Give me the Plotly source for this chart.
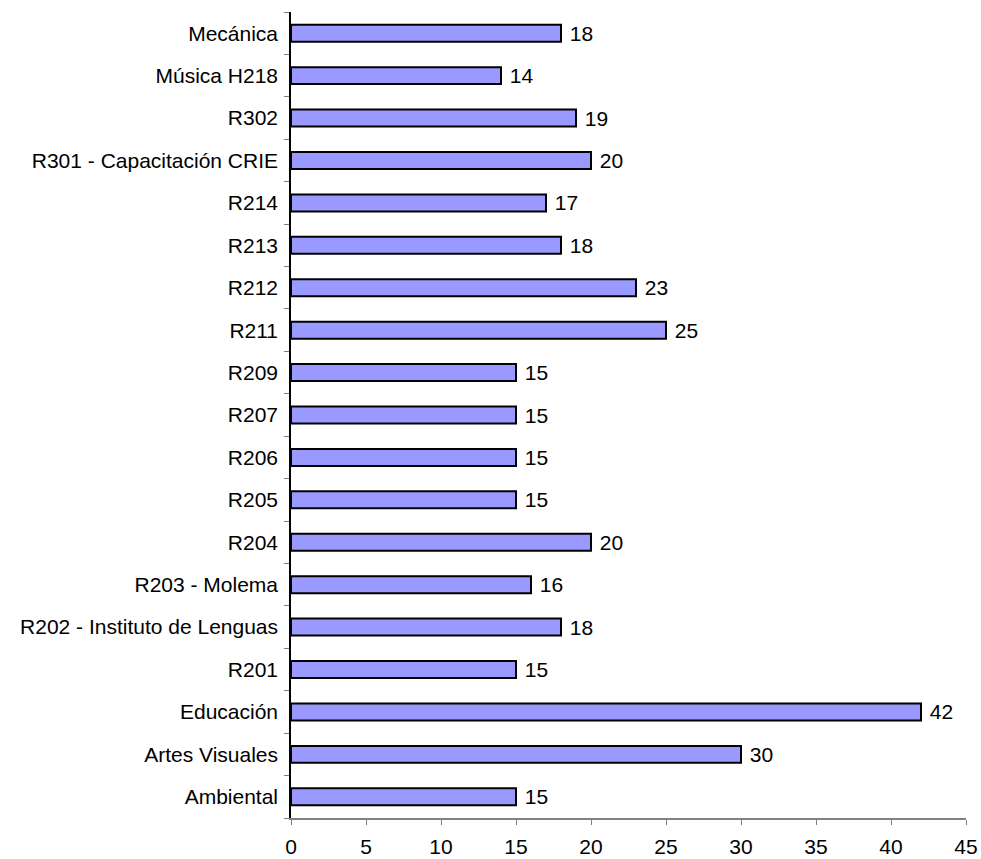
import plotly.graph_objects as go

categories = ["Ambiental", "Artes Visuales", "Educación", "R201",
              "R202 - Instituto de Lenguas", "R203 - Molema", "R204", "R205",
              "R206", "R207", "R209", "R211", "R212", "R213", "R214",
              "R301 - Capacitación CRIE", "R302", "Música H218", "Mecánica"]
values = [15, 30, 42, 15, 18, 16, 20, 15, 15, 15, 15, 25, 23, 18, 17, 20, 19, 14, 18]
x_ticks = [0, 5, 10, 15, 20, 25, 30, 35, 40, 45]

FONT = "Liberation Sans, Arial, sans-serif"
FS = 21

fig = go.Figure(go.Bar(
    y=categories, x=values, orientation="h",
    marker=dict(color="#9999FF", line=dict(color="black", width=2)),
    text=[str(v) for v in values], texttemplate=" %{text}", textposition="outside",
    constraintext="none",
    textfont=dict(family=FONT, size=FS, color="black"),
    cliponaxis=False,
))

fig.update_layout(
    width=981, height=859,
    margin=dict(l=291, r=15, t=12, b=41),
    paper_bgcolor="white", plot_bgcolor="white",
    bargap=0.6, showlegend=False,
    font=dict(family=FONT, size=FS, color="black"),
)
fig.update_xaxes(
    range=[0, 45], tickvals=x_ticks, showgrid=False, zeroline=False,
    showline=True, linecolor="#808080", linewidth=2,
    ticks="outside", ticklen=5, tickcolor="#808080", tickwidth=1,
    ticklabelstandoff=4, automargin=False,
    tickfont=dict(family=FONT, size=FS, color="black"),
)
fig.update_yaxes(
    type="category", categoryorder="array", categoryarray=categories,
    range=[-0.5, len(categories) - 0.5], showgrid=False, zeroline=False,
    showline=True, linecolor="black", linewidth=1.5,
    ticks="outside", tickson="boundaries", ticklen=5, tickcolor="#808080", tickwidth=1,
    ticklabelstandoff=7, automargin=False,
    tickfont=dict(family=FONT, size=FS, color="black"),
)

fig.write_html("out.html", config={"displayModeBar": False},
               post_script="document.body.style.margin='0';")
